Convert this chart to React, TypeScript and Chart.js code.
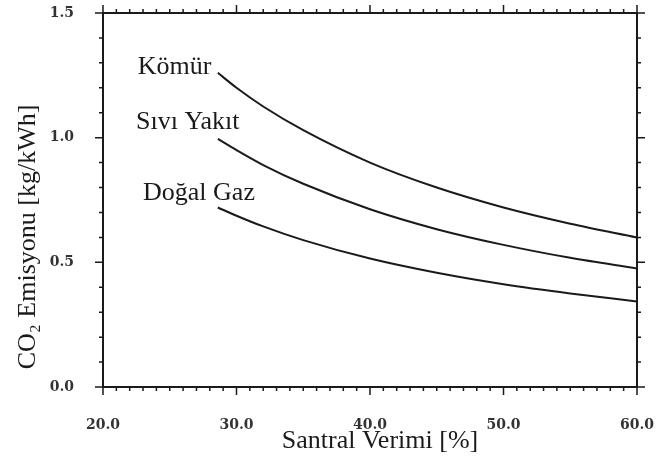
import React, { useEffect, useRef } from 'react';
import { Chart, registerables } from 'chart.js';

Chart.register(...registerables);

// Santral verimi [%]
const efficiency = [28.6, 30, 32, 35, 40, 45, 50, 55, 60];
// CO2 emisyonu [kg/kWh]
const coal = [1.26, 1.2, 1.125, 1.03, 0.9, 0.8, 0.72, 0.655, 0.6];
const liquid = [0.995, 0.95, 0.89, 0.815, 0.713, 0.633, 0.57, 0.518, 0.475];
const gas = [0.72, 0.687, 0.644, 0.589, 0.515, 0.458, 0.412, 0.375, 0.343];
const seriesNames = ['Kömür', 'Sıvı Yakıt', 'Doğal Gaz'];
const xTitle = 'Santral Verimi [%]';
const yTitle = 'CO₂ Emisyonu [kg/kWh]';
const xMin = 20;
const xMax = 60;
const yMin = 0;
const yMax = 1.5;

// label anchors (data coordinates) for the curve names
const labelAnchors = [
  { x: 22.6, y: 1.256 },
  { x: 22.47, y: 1.036 },
  { x: 23.0, y: 0.748 },
];

const INK = '#1a1a1a';
const SERIF = "'Liberation Serif', 'Times New Roman', serif";

const framePlugin = {
  id: 'framePlugin',
  afterDraw(chart: any) {
    const { ctx, chartArea: a, scales } = chart;
    const xs = scales.x;
    const ys = scales.y;
    ctx.save();
    ctx.strokeStyle = INK;
    ctx.lineWidth = 2;
    ctx.strokeRect(a.left, a.top, a.right - a.left, a.bottom - a.top);

    ctx.lineWidth = 1.5;
    ctx.beginPath();
    for (let v = xMin; v <= xMax; v += 1) {
      const px = xs.getPixelForValue(v);
      const len = v % 10 === 0 ? 8 : 4;
      ctx.moveTo(px, a.bottom);
      ctx.lineTo(px, a.bottom + len);
      ctx.moveTo(px, a.top);
      ctx.lineTo(px, a.top - len);
    }
    for (let i = 0; i <= 15; i++) {
      const py = ys.getPixelForValue(i / 10);
      const len = i % 5 === 0 ? 8 : 4;
      ctx.moveTo(a.left, py);
      ctx.lineTo(a.left - len, py);
      ctx.moveTo(a.right, py);
      ctx.lineTo(a.right + len, py);
    }
    ctx.stroke();

    ctx.fillStyle = INK;
    ctx.font = `26px ${SERIF}`;
    ctx.textAlign = 'left';
    ctx.textBaseline = 'alphabetic';
    seriesNames.forEach((name, i) => {
      const p = labelAnchors[i];
      ctx.fillText(name, xs.getPixelForValue(p.x), ys.getPixelForValue(p.y));
    });

    // axis titles
    ctx.textAlign = 'center';
    ctx.textBaseline = 'middle';
    ctx.fillText(xTitle, 380, 441);
    ctx.save();
    ctx.translate(28, 237);
    ctx.rotate(-Math.PI / 2);
    ctx.fillText(yTitle, 0, 0);
    ctx.restore();
    ctx.restore();
  },
};

export default function App() {
  const canvasRef = useRef<HTMLCanvasElement | null>(null);

  useEffect(() => {
    document.body.style.margin = '0';
    const canvas = canvasRef.current;
    if (!canvas) return;
    const mk = (vals: number[]) => efficiency.map((x, i) => ({ x, y: vals[i] }));
    const tickFont = { family: "'DejaVu Serif', serif", size: 14, weight: 'bold' as const };
    const chart = new Chart(canvas, {
      type: 'line',
      data: {
        datasets: [
          { label: seriesNames[0], data: mk(coal) },
          { label: seriesNames[1], data: mk(liquid) },
          { label: seriesNames[2], data: mk(gas) },
        ].map((d) => ({
          ...d,
          borderColor: INK,
          borderWidth: 2,
          pointRadius: 0,
          fill: false,
          cubicInterpolationMode: 'monotone' as const,
        })),
      },
      options: {
        responsive: false,
        animation: false,
        layout: { padding: { top: 13, right: 22, left: 0, bottom: 0 } },
        plugins: { legend: { display: false }, tooltip: { enabled: false } },
        scales: {
          x: {
            type: 'linear',
            min: xMin,
            max: xMax,
            afterFit: (s: any) => {
              s.height = 81;
              s.paddingLeft = 0;
              s.paddingRight = 0;
              s.paddingTop = 0;
              s.paddingBottom = 0;
            },
            grid: { display: false, drawTicks: false },
            border: { display: false },
            ticks: {
              stepSize: 10,
              autoSkip: false,
              maxRotation: 0,
              padding: 30,
              color: '#333',
              font: tickFont,
              callback: (v: any) => Number(v).toFixed(1),
            },
          },
          y: {
            type: 'linear',
            min: yMin,
            max: yMax,
            afterFit: (s: any) => {
              s.width = 103;
              s.paddingLeft = 0;
              s.paddingRight = 0;
              s.paddingTop = 0;
              s.paddingBottom = 0;
            },
            grid: { display: false, drawTicks: false },
            border: { display: false },
            ticks: {
              stepSize: 0.5,
              padding: 29,
              color: '#333',
              font: tickFont,
              callback: (v: any) => Number(v).toFixed(1),
            },
          },
        },
      },
      plugins: [framePlugin],
    });
    return () => chart.destroy();
  }, []);

  return (
    <div style={{ width: 659, height: 468 }}>
      <canvas ref={canvasRef} width={659} height={468} />
    </div>
  );
}
